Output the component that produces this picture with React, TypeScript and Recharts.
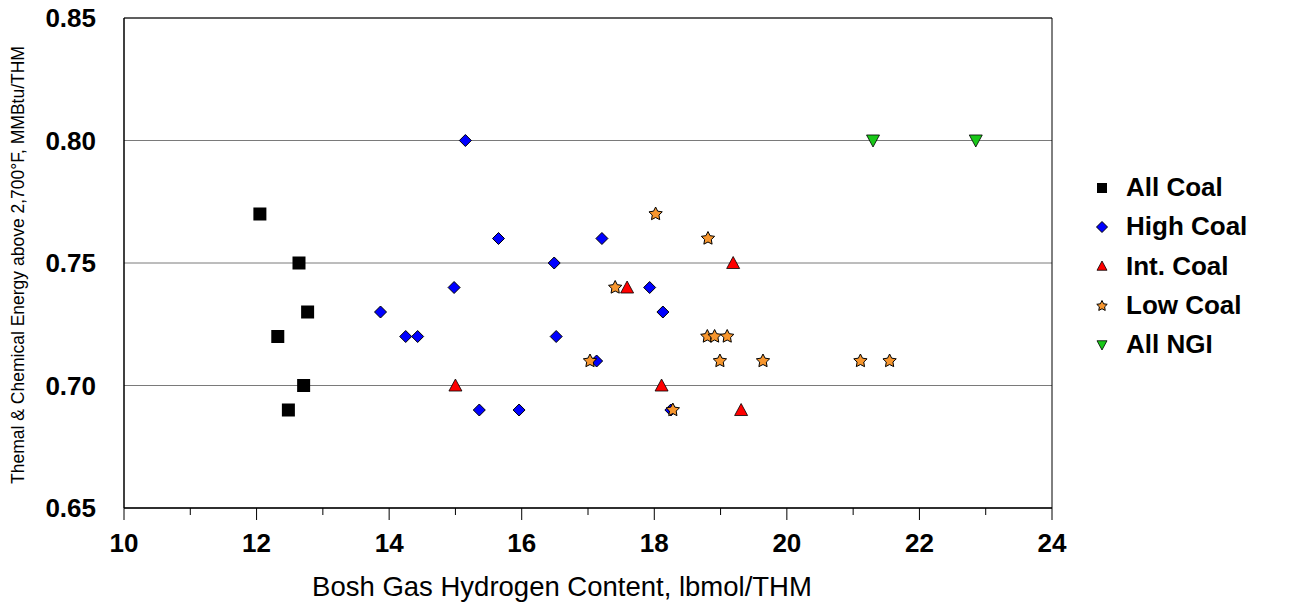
import React from 'react';
import { ScatterChart, Scatter, XAxis, YAxis, CartesianGrid, ReferenceLine } from 'recharts';

// hydrogen content (x) and energy (y) per coal group
const allCoalX = [12.05, 12.64, 12.77, 12.32, 12.71, 12.48];
const allCoalY = [0.77, 0.75, 0.73, 0.72, 0.70, 0.69];

const highCoalX = [15.15, 15.65, 17.21, 16.49, 14.98, 17.93, 13.87, 18.13, 14.25, 14.43, 16.52, 17.13, 15.36, 15.96, 18.25];
const highCoalY = [0.80, 0.76, 0.76, 0.75, 0.74, 0.74, 0.73, 0.73, 0.72, 0.72, 0.72, 0.71, 0.69, 0.69, 0.69];

const intCoalX = [15.0, 17.59, 18.11, 19.19, 19.31];
const intCoalY = [0.70, 0.74, 0.70, 0.75, 0.69];

const lowCoalX = [18.02, 18.81, 17.41, 17.03, 18.28, 18.80, 18.91, 19.10, 18.99, 19.64, 21.11, 21.55];
const lowCoalY = [0.77, 0.76, 0.74, 0.71, 0.69, 0.72, 0.72, 0.72, 0.71, 0.71, 0.71, 0.71];

const ngiX = [21.3, 22.85];
const ngiY = [0.80, 0.80];

const xTicks = [10, 11, 12, 13, 14, 15, 16, 17, 18, 19, 20, 21, 22, 23, 24];
const yTicks = [0.65, 0.70, 0.75, 0.80, 0.85];

const FONT = '"Liberation Sans", Arial, sans-serif';

const pts = (xs: number[], ys: number[]) => xs.map((x, i) => ({ x, y: ys[i] }));

type Kind = 'square' | 'diamond' | 'up' | 'star' | 'down';

const marker = (kind: Kind, color: string, cx: number, cy: number, s: number) => {
  if (kind === 'square') {
    return <rect x={cx - s / 2} y={cy - s / 2} width={s} height={s} fill={color} />;
  }
  if (kind === 'diamond') {
    const h = s / 2 + 0.5;
    return <path d={`M${cx},${cy - h}L${cx + h},${cy}L${cx},${cy + h}L${cx - h},${cy}Z`} fill={color} stroke="#000" strokeWidth={1} />;
  }
  if (kind === 'up' || kind === 'down') {
    const h = s / 2;
    const d = kind === 'up'
      ? `M${cx},${cy - h}L${cx + h},${cy + h * 0.85}L${cx - h},${cy + h * 0.85}Z`
      : `M${cx},${cy + h}L${cx + h},${cy - h * 0.85}L${cx - h},${cy - h * 0.85}Z`;
    return <path d={d} fill={color} stroke="#000" strokeWidth={0.8} />;
  }
  // star
  const ro = s / 2 + 0.5;
  const ri = ro * 0.5;
  let d = '';
  for (let i = 0; i < 10; i++) {
    const r = i % 2 === 0 ? ro : ri;
    const a = -Math.PI / 2 + (i * Math.PI) / 5;
    d += `${i === 0 ? 'M' : 'L'}${cx + r * Math.cos(a)},${cy + r * Math.sin(a)}`;
  }
  return <path d={d + 'Z'} fill={color} stroke="#000" strokeWidth={1} />;
};

const series: { name: string; kind: Kind; color: string; data: { x: number; y: number }[] }[] = [
  { name: 'All Coal', kind: 'square', color: '#000000', data: pts(allCoalX, allCoalY) },
  { name: 'High Coal', kind: 'diamond', color: '#0000FF', data: pts(highCoalX, highCoalY) },
  { name: 'Int. Coal', kind: 'up', color: '#FF0000', data: pts(intCoalX, intCoalY) },
  { name: 'Low Coal', kind: 'star', color: '#F7962E', data: pts(lowCoalX, lowCoalY) },
  { name: 'All NGI', kind: 'down', color: '#19C819', data: pts(ngiX, ngiY) },
];

// x ticks: long mark + label on even values, short mark on odd ones
const XTick = (p: any) => {
  const v = p.payload.value;
  const major = v % 2 === 0;
  return (
    <g>
      <line x1={p.x} y1={p.y} x2={p.x} y2={p.y + (major ? 12 : 7)} stroke="#000" strokeWidth={1} />
      {major && (
        <text x={p.x} y={p.y + 44} textAnchor="middle" fontSize={26} fontWeight="bold" fontFamily={FONT} fill="#000">
          {v}
        </text>
      )}
    </g>
  );
};

const LegendBox = () => (
  <div style={{ position: 'absolute', left: 1094, top: 168, fontFamily: FONT }}>
    {series.map(s => (
      <div key={s.name} style={{ display: 'flex', alignItems: 'center', height: 39.3 }}>
        <svg width={16} height={16} style={{ marginRight: 16 }}>
          {marker(s.kind, s.color, 8, 8, 10)}
        </svg>
        <span style={{ fontSize: 26, fontWeight: 'bold', color: '#000' }}>{s.name}</span>
      </div>
    ))}
  </div>
);

export default function App() {
  return (
    <div style={{ position: 'absolute', left: 0, top: 0, width: 1294, height: 603, background: '#fff' }}>
      <ScatterChart width={1294} height={603} margin={{ top: 18, right: 242, bottom: 35, left: 64 }}>
        <CartesianGrid horizontal vertical={false} stroke="#7a7a7a" strokeWidth={1} />
        <XAxis
          type="number"
          dataKey="x"
          domain={[10, 24]}
          ticks={xTicks}
          interval={0}
          height={60}
          axisLine={{ stroke: '#000', strokeWidth: 1.5 }}
          tickLine={false}
          tickSize={0}
          tickMargin={0}
          tick={<XTick />}
          label={{
            content: () => (
              <text x={562} y={596} textAnchor="middle" fontSize={27.5} fontFamily={FONT} fill="#000">
                Bosh Gas Hydrogen Content, lbmol/THM
              </text>
            ),
          }}
        />
        <YAxis
          type="number"
          dataKey="y"
          domain={[0.65, 0.85]}
          ticks={yTicks}
          interval={0}
          width={60}
          tickFormatter={(v: number) => v.toFixed(2)}
          axisLine={{ stroke: '#000', strokeWidth: 1.5 }}
          tickLine={false}
          tickSize={0}
          tickMargin={28}
          tick={{ fill: '#000', fontSize: 26, fontWeight: 'bold', fontFamily: FONT }}
          label={{
            content: (p: any) => {
              const vb = p.viewBox || {};
              const cy = vb.y + vb.height / 2 + 2;
              return (
                <text x={18} y={cy} transform={`rotate(-90, 18, ${cy})`} textAnchor="middle" dominantBaseline="central" fontSize={17.5} fontFamily={FONT} fill="#000">
                  Themal &amp; Chemical Energy above 2,700°F, MMBtu/THM
                </text>
              );
            },
          }}
        />
        <ReferenceLine y={0.85} stroke="#000" strokeWidth={1} />
        <ReferenceLine x={24} stroke="#000" strokeWidth={1} />
        {series.map(s => (
          <Scatter
            key={s.name}
            name={s.name}
            data={s.data}
            fill={s.color}
            isAnimationActive={false}
            shape={(p: any) => marker(s.kind, s.color, p.cx, p.cy, s.kind === 'diamond' ? 11 : 13)}
          />
        ))}
      </ScatterChart>
      <LegendBox />
    </div>
  );
}
